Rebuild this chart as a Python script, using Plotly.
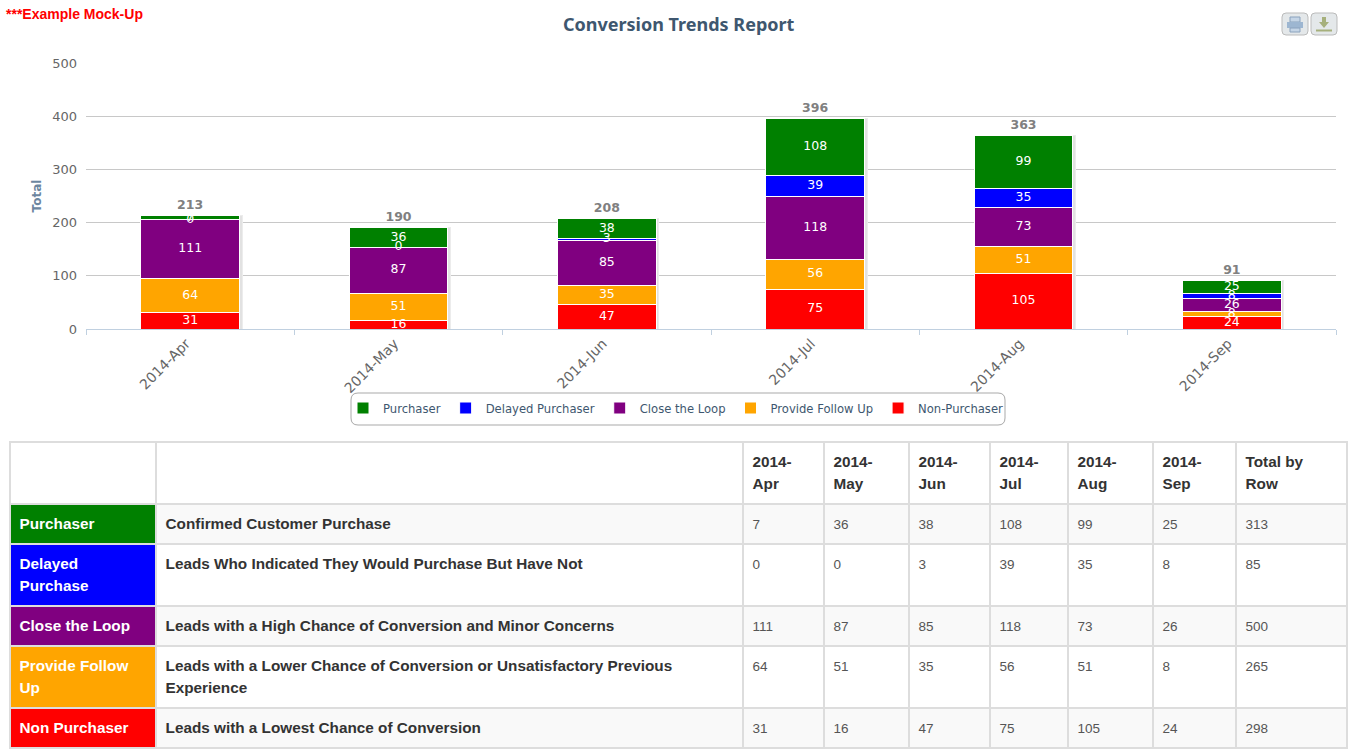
import plotly.graph_objects as go

months = ["2014-Apr", "2014-May", "2014-Jun", "2014-Jul", "2014-Aug", "2014-Sep"]
purchaser = [7, 36, 38, 108, 99, 25]
delayed = [0, 0, 3, 39, 35, 8]
close_loop = [111, 87, 85, 118, 73, 26]
follow_up = [64, 51, 35, 56, 51, 8]
non_purchaser = [31, 16, 47, 75, 105, 24]
totals = [213, 190, 208, 396, 363, 91]
row_totals = [313, 85, 500, 265, 298]

stack_names = ["Non-Purchaser", "Provide Follow Up", "Close the Loop", "Delayed Purchaser", "Purchaser"]
stack_values = [non_purchaser, follow_up, close_loop, delayed, purchaser]
stack_colors = ["#ff0000", "#ffa500", "#800080", "#0000ff", "#008000"]

row_names = [["Purchaser"], ["Delayed", "Purchase"], ["Close the Loop"], ["Provide Follow", "Up"], ["Non Purchaser"]]
row_colors = ["#008000", "#0000ff", "#800080", "#ffa500", "#ff0000"]
row_desc = [
    ["Confirmed Customer Purchase"],
    ["Leads Who Indicated They Would Purchase But Have Not"],
    ["Leads with a High Chance of Conversion and Minor Concerns"],
    ["Leads with a Lower Chance of Conversion or Unsatisfactory Previous", "Experience"],
    ["Leads with a Lowest Chance of Conversion"],
]
col_heads = [["2014-", "Apr"], ["2014-", "May"], ["2014-", "Jun"], ["2014-", "Jul"], ["2014-", "Aug"], ["2014-", "Sep"], ["Total by", "Row"]]
col_widths = [146, 587, 81, 85, 81, 78, 85, 83, 111]
row_stripes = ["#f9f9f9", "#ffffff", "#f9f9f9", "#ffffff", "#f9f9f9"]
row_rows = [purchaser, delayed, close_loop, follow_up, non_purchaser]

W, H = 1350, 750


def cell(lines, bold=False):
    """Small text on a 17px base (22px line spacing). A hair space sets the top padding, a wide one the row height."""
    size = 15.3 if bold else 13.5
    parts = [f"<b>{s}</b>" if bold else str(s) for s in lines]
    first = f"<span style='font-size:18.5px'>\u200a</span><span style='font-size:{size}px'>{parts[0]}</span><br>"
    if len(parts) == 1:
        return first
    return (first + f"<span style='font-size:18.5px'>\u200a</span><span style='font-size:{size}px'>{parts[1]}</span>"
            + "<span style='font-size:33px'>\u00a0</span>")


fig = go.Figure()
fig.add_trace(go.Bar(
    x=months, y=totals, width=0.485, offset=-0.236, marker=dict(color="#e2e2e2", line=dict(color="#ececec", width=1)),
    showlegend=False, hoverinfo="skip", xaxis="x", yaxis="y",
))
for name, vals, color in zip(stack_names, stack_values, stack_colors):
    fig.add_trace(go.Bar(
        x=months, y=vals, name=name, marker=dict(color=color, line=dict(color="white", width=1)),
        xaxis="x2", yaxis="y2",
    ))

for k in range(len(stack_values) - 1, -1, -1):
    mids = [sum(v[i] for v in stack_values[:k]) + stack_values[k][i] / 2 for i in range(len(months))]
    fig.add_trace(go.Scatter(
        x=months, y=mids, mode="text", text=stack_values[k], textposition="middle center", showlegend=False,
        textfont=dict(color="white", size=12.5, family="DejaVu Sans"), cliponaxis=False, hoverinfo="skip",
        xaxis="x2", yaxis="y2",
    ))
fig.add_trace(go.Scatter(
    x=months, y=totals, mode="text+markers", text=totals, texttemplate="<b>%{text}</b>", textposition="top center",
    marker=dict(size=4, color="rgba(0,0,0,0)", line=dict(width=0)),
    showlegend=False, textfont=dict(color="#808080", size=12.5, family="DejaVu Sans"), cliponaxis=False,
    hoverinfo="skip", xaxis="x2", yaxis="y2",
))

cells = [[cell(n, True) for n in row_names], [cell(d, True) for d in row_desc]]
for i in range(6):
    cells.append([cell([r[i]]) for r in row_rows])
cells.append([cell([v]) for v in row_totals])

fig.add_trace(go.Table(
    domain=dict(x=[10 / W, 1347 / W], y=[0, 1 - 442 / H]),
    columnwidth=col_widths,
    header=dict(values=["", ""] + [cell(c, True) for c in col_heads], height=40,
                align="left", fill=dict(color="white"), line=dict(color="#dddddd", width=2),
                font=dict(family="Liberation Sans", size=17, color="#333333")),
    cells=dict(values=cells, height=40, align="left",
               fill=dict(color=[row_colors] + [row_stripes] * 8), line=dict(color="#dddddd", width=2),
               font=dict(family="Liberation Sans", size=17,
                         color=[["white"] * 5] + [["#333333"] * 5] + [["#555555"] * 5] * 7)),
))


def rrect(x0, y0, x1, y1, r):
    return (f"M{(x0+r)/W},{1-y0/H} L{(x1-r)/W},{1-y0/H} Q{x1/W},{1-y0/H} {x1/W},{1-(y0+r)/H} "
            f"L{x1/W},{1-(y1-r)/H} Q{x1/W},{1-y1/H} {(x1-r)/W},{1-y1/H} L{(x0+r)/W},{1-y1/H} "
            f"Q{x0/W},{1-y1/H} {x0/W},{1-(y1-r)/H} L{x0/W},{1-(y0+r)/H} Q{x0/W},{1-y0/H} {(x0+r)/W},{1-y0/H} Z")


def box(x0, y0, x1, y1, color, line=None):
    return dict(type="rect", xref="paper", yref="paper", x0=x0 / W, x1=x1 / W, y0=1 - y1 / H, y1=1 - y0 / H,
                line=dict(width=1 if line else 0, color=line or color), fillcolor=color)


shapes = [
    dict(type="path", xref="paper", yref="paper", path=rrect(351, 393, 1005, 425, 7),
         line=dict(color="#a9a9a9", width=1), fillcolor="white", layer="below"),
    dict(type="path", xref="paper", yref="paper", path=rrect(1282, 13, 1308, 35, 4),
         line=dict(color="#bbbbbb", width=1), fillcolor="#e4e8ea"),
    dict(type="path", xref="paper", yref="paper", path=rrect(1311, 13, 1337, 35, 4),
         line=dict(color="#bbbbbb", width=1), fillcolor="#e4e8ea"),
    box(1290, 17, 1300, 22, "#c5d5e6", "#8aa2bd"),
    box(1287, 22, 1303, 28, "#9db6d1"),
    box(1290, 28, 1300, 32, "#c5d5e6", "#8aa2bd"),
    box(1316, 29.5, 1332, 31.5, "#a6b07c"),
    dict(type="path", xref="paper", yref="paper",
         path=f"M{1322/W},{1-17/H} L{1326/W},{1-17/H} L{1326/W},{1-22/H} L{1329/W},{1-22/H} L{1324/W},{1-28/H} "
              f"L{1319/W},{1-22/H} L{1322/W},{1-22/H} Z",
         line=dict(width=0), fillcolor="#a6b07c"),
]

x_dom = [86 / W, 1336 / W]
y_dom = [1 - 329 / H, 1 - 63 / H]
fig.update_layout(
    width=W, height=H, autosize=False, barmode="stack", bargap=0.525,
    margin=dict(l=0, r=0, t=0, b=0), paper_bgcolor="white", plot_bgcolor="white",
    xaxis=dict(domain=x_dom, anchor="y", type="category", categoryorder="array", categoryarray=months,
               range=[-0.5, 5.5], tickangle=-45, automargin=False, ticklabelshift=-4,
               showgrid=False, showline=True, linecolor="#c0d0e0", linewidth=1,
               ticks="outside", ticklen=5, tickcolor="#c0d0e0", tickson="boundaries",
               tickfont=dict(family="DejaVu Sans", size=14, color="#666666")),
    yaxis=dict(domain=y_dom, anchor="x", range=[0, 500], tickvals=[0, 100, 200, 300, 400, 500], automargin=False,
               gridcolor="#c8c8c8", gridwidth=1, zeroline=False, showline=False, ticks="", ticklabelstandoff=8,
               tickfont=dict(family="DejaVu Sans", size=13, color="#666666"),
               title=dict(text="<b>Total</b>", font=dict(family="DejaVu Sans", size=12, color="#6d869f"), standoff=7)),
    xaxis2=dict(overlaying="x", matches="x", anchor="y2", type="category", visible=False, automargin=False),
    yaxis2=dict(overlaying="y", matches="y", anchor="x2", visible=False, automargin=False),
    showlegend=True,
    legend=dict(orientation="h", traceorder="reversed", x=676 / W, xanchor="center", y=1 - 408 / H, yanchor="middle",
                bgcolor="rgba(0,0,0,0)", font=dict(family="DejaVu Sans", size=11.6, color="#3e576f")),
    shapes=shapes,
    annotations=[
        dict(text="<b>Conversion Trends Report</b>", xref="paper", yref="paper", x=679 / W, y=1 - 24 / H, showarrow=False,
             xanchor="center", yanchor="middle", font=dict(family="Noto Sans", size=18, color="#3e576f")),
        dict(text="<b>***Example Mock-Up</b>", xref="paper", yref="paper", x=4 / W, y=1 - 14 / H, showarrow=False,
             xanchor="left", yanchor="middle", font=dict(family="Liberation Sans", size=14, color="#ff0000")),
    ],
)
fig.write_html("out.html", config={"displayModeBar": False},
               post_script="document.body.style.margin='0';document.documentElement.style.overflow='hidden';")
